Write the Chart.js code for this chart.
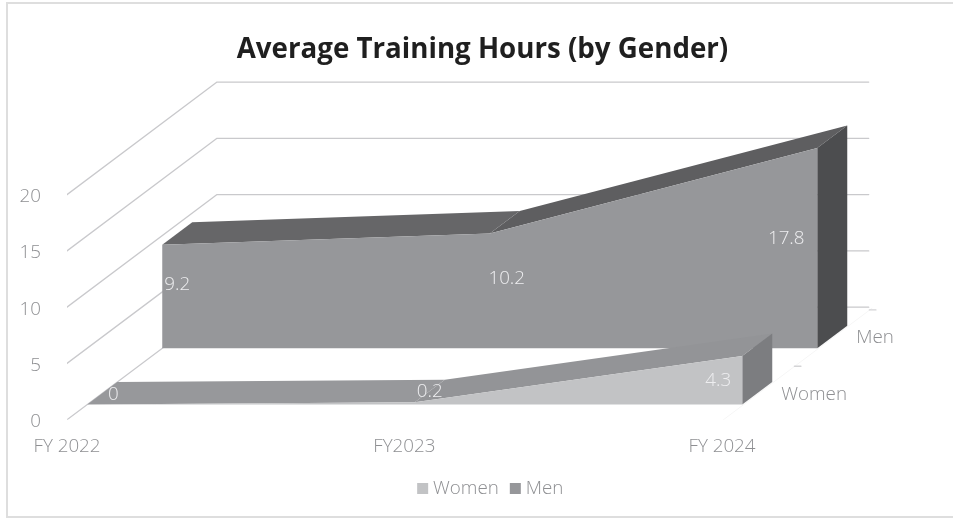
<!DOCTYPE html>
<html><head><meta charset="utf-8">
<style>html,body{margin:0;padding:0;background:#fff}canvas{display:block}</style>
<script src="https://cdn.jsdelivr.net/npm/chart.js@4"></script>
</head><body><canvas id="c" width="953" height="518"></canvas>
<script>
const categories = ['FY 2022', 'FY2023', 'FY 2024'];
const seriesNames = ['Women', 'Men'];
const women = [0, 0.2, 4.3];
const men = [9.2, 10.2, 17.8];
const yTicks = [0, 5, 10, 15, 20];

const TEXT = '#8e8f92', GRID = '#c9c9cc', FONT = '"Open Sans", sans-serif', TICK_SIZE = 18.8;
// oblique projection: one depth row moves this far in data units
const DX = 75 / 327.5, DY = 5, BAR_DEPTH = 0.4;
const P = (x, y, d) => ({x: x + d * DX, y: y + d * DY});
const rowFront = {Women: 0.27, Men: 1.27};

function poly(label, pts, color, order) {
  return {label, data: pts, backgroundColor: color, borderColor: color, polygon: true,
          showLine: false, pointRadius: 0, borderWidth: 0, order, pointStyle: 'rect'};
}
function line(label, pts, color, order, w) {
  return {label, data: pts, borderColor: color, backgroundColor: color, showLine: true,
          pointRadius: 0, borderWidth: w || 1.3, order, borderCapStyle: 'round', borderJoinStyle: 'round', fill: false, tension: 0};
}
function faces(name, vals, cFront, cTop, cSide, base) {
  const f = rowFront[name], b = f + BAR_DEPTH, n = vals.length - 1, out = [];
  out.push(poly(name, [P(0, 0, f)].concat(vals.map((v, i) => P(i, v, f)), [P(n, 0, f)]), cFront, base));
  out.push(poly(name + ' side', [P(n, 0, f), P(n, vals[n], f), P(n, vals[n], b), P(n, 0, b)], cSide, base + 1));
  vals.slice(0, n).forEach((v, i) => out.push(poly(name + ' top ' + i,
    [P(i, v, f), P(i + 1, vals[i + 1], f), P(i + 1, vals[i + 1], b), P(i, v, b)], cTop[i], base + 2)));
  return out;
}
const gridLines = yTicks.map(t => line('grid ' + t, [P(0, t, -0.03), P(0, t, 2), P(1.99, t, 2)], GRID, 20));
const depthLines = [
  line('depth floor', [P(2, -0.1, 0), P(2, -0.1, 2)], '#f6f6f6', 19, 1),
  ...[0, 1, 2].map(d => line('depth tick ' + d, [P(1.992, -0.25, d), P(2.012, -0.25, d)], '#d4d4d6', 18, 1.3))
];
const datasets = [
  ...faces('Women', women, '#c2c3c5', ['#97989b', '#939497'], '#7c7d80', 1),
  ...faces('Men', men, '#96979a', ['#666668', '#5e5e60'], '#4c4d4f', 5),
  ...gridLines, ...depthLines
];

const polygonPlugin = {
  id: 'polygon',
  beforeDatasetDraw(chart, args) {
    const ds = chart.data.datasets[args.index];
    if (!ds.polygon) return;
    const pts = chart.getDatasetMeta(args.index).data, ctx = chart.ctx;
    ctx.save();
    ctx.beginPath();
    pts.forEach((p, i) => i ? ctx.lineTo(p.x, p.y) : ctx.moveTo(p.x, p.y));
    ctx.closePath();
    ctx.fillStyle = ds.backgroundColor;
    ctx.fill();
    ctx.restore();
  }
};
const labelDX = {Women: [11, 0, -39], Men: [0, 2, -46]};
const labelDY = {Women: [1, 0, 12], Men: [-1, -1, 2]};
const LEGEND_SHIFT = 10;
const textPlugin = {
  id: 'texts',
  afterLayout(chart) { chart.legend.left += LEGEND_SHIFT; chart.legend.right += LEGEND_SHIFT; },
  beforeDraw(chart) {
    const c = chart.ctx;
    c.save();
    c.fillStyle = '#fff'; c.fillRect(0, 0, 953, 518);
    c.strokeStyle = '#dedede'; c.lineWidth = 2;
    c.beginPath(); c.moveTo(953, 3); c.lineTo(7, 3); c.lineTo(7, 517); c.lineTo(953, 517); c.stroke();
    c.restore();
  },
  afterDraw(chart) {
    const c = chart.ctx, xs = chart.scales.x, ys = chart.scales.y;
    c.save();
    c.font = '300 ' + TICK_SIZE + 'px ' + FONT;
    c.textBaseline = 'middle';
    [['Women', women], ['Men', men]].forEach(([name, vals]) => {
      const d = rowFront[name] + BAR_DEPTH / 2;
      c.fillStyle = '#eeeef0'; c.textAlign = 'center';
      vals.forEach((v, i) => {
        const p = P(i, v / 2, d);
        c.fillText(String(v), xs.getPixelForValue(p.x) + labelDX[name][i], ys.getPixelForValue(p.y) + labelDY[name][i]);
      });
      const q = P(2, 0, d);
      c.fillStyle = TEXT; c.textAlign = 'left';
      c.fillText(name, xs.getPixelForValue(q.x) + 24, ys.getPixelForValue(q.y) + 1);
    });
    c.restore();
  }
};

new Chart(document.getElementById('c'), {
  type: 'scatter',
  data: {datasets},
  plugins: [polygonPlugin, textPlugin],
  options: {
    responsive: false, animation: false, devicePixelRatio: 1,
    layout: {padding: {left: 12, right: 0, top: 0, bottom: 10}},
    plugins: {
      tooltip: {enabled: false},
      title: {display: true, text: 'Average Training Hours (by Gender)', color: '#1f1f1f',
        font: {family: FONT, size: 27.7, weight: 'bold', lineHeight: 1.2}, padding: {top: 33, bottom: 4}},
      legend: {position: 'bottom', labels: {
        filter: it => seriesNames.includes(it.text), color: TEXT, usePointStyle: true, boxWidth: 2, boxHeight: 11, padding: 15.5,
        font: {family: FONT, size: TICK_SIZE, weight: 300}}}
    },
    scales: {
      x: {type: 'linear', min: 0, max: 886 / 327.5, grid: {display: false}, border: {display: false},
        afterFit(s) { s.height = 44; },
        afterBuildTicks(s) { s.ticks = [{value: 0}, {value: 1.03}, {value: 2}]; },
        ticks: {autoSkip: false, maxRotation: 0, padding: 8, color: TEXT, font: {family: FONT, size: TICK_SIZE, weight: 300},
          callback: v => categories[Math.round(v)]}},
      y: {type: 'linear', min: 0, max: (418 - 70.24) / 11.2, grid: {display: false}, border: {display: false},
        afterFit(s) { s.width = 55; },
        afterBuildTicks(s) { s.ticks = yTicks.map(value => ({value})); },
        ticks: {padding: 18, labelOffset: 2, color: TEXT, font: {family: FONT, size: TICK_SIZE, weight: 300}}}
    }
  }
});
</script></body></html>
